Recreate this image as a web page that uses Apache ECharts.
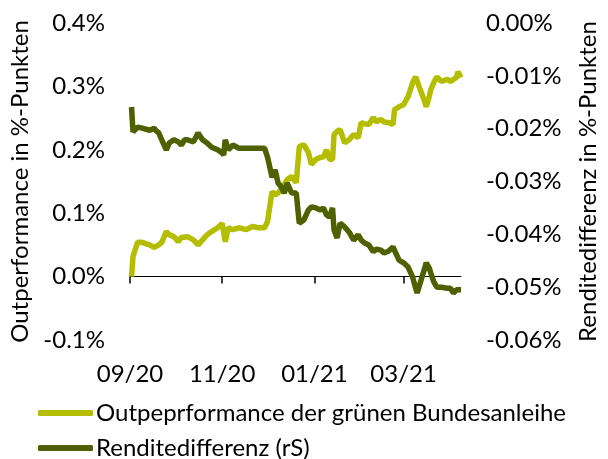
<!DOCTYPE html>
<html>
<head>
<meta charset="utf-8">
<script src="https://cdn.jsdelivr.net/npm/echarts@6/dist/echarts.min.js"></script>
<style>
  html, body { margin: 0; background: #fff; }
  #chart { width: 608px; height: 459px; }
</style>
</head>
<body>
<div id="chart"></div>
<script>
// daily readings, Sep 2020 - Apr 2021
const dates = [
  '2020-09-02', '2020-09-03', '2020-09-06', '2020-09-09', '2020-09-14', '2020-09-17', '2020-09-18', '2020-09-20',
  '2020-09-22', '2020-09-25', '2020-09-27', '2020-09-30', '2020-10-03', '2020-10-05', '2020-10-07', '2020-10-09',
  '2020-10-13', '2020-10-16', '2020-10-19', '2020-10-22', '2020-10-25', '2020-10-29', '2020-11-01', '2020-11-02',
  '2020-11-03', '2020-11-05', '2020-11-08', '2020-11-12', '2020-11-17', '2020-11-21', '2020-11-25', '2020-11-29',
  '2020-12-01', '2020-12-04', '2020-12-06', '2020-12-08', '2020-12-10', '2020-12-12', '2020-12-14', '2020-12-17',
  '2020-12-20', '2020-12-22', '2020-12-25', '2020-12-28', '2020-12-30', '2021-01-02', '2021-01-05', '2021-01-07',
  '2021-01-09', '2021-01-11', '2021-01-13', '2021-01-14', '2021-01-16', '2021-01-18', '2021-01-21', '2021-01-24',
  '2021-01-27', '2021-01-30', '2021-02-01', '2021-02-03', '2021-02-06', '2021-02-09', '2021-02-11', '2021-02-14',
  '2021-02-16', '2021-02-19', '2021-02-22', '2021-02-23', '2021-02-26', '2021-03-01', '2021-03-04', '2021-03-07',
  '2021-03-09', '2021-03-10', '2021-03-12', '2021-03-15', '2021-03-16', '2021-03-18', '2021-03-19', '2021-03-21',
  '2021-03-23', '2021-03-26', '2021-03-30', '2021-04-01', '2021-04-03', '2021-04-05', '2021-04-06', '2021-04-08'
];

// Outperformance der grünen Bundesanleihe, in %-Punkten (left axis)
const outperformance = [
  0.000, 0.032, 0.054, 0.054, 0.050, 0.046, 0.043, 0.050,
  0.054, 0.071, 0.066, 0.063, 0.055, 0.062, 0.062, 0.063,
  0.058, 0.050, 0.058, 0.066, 0.071, 0.077, 0.084, 0.085,
  0.055, 0.077, 0.074, 0.077, 0.074, 0.079, 0.077, 0.077,
  0.087, 0.134, 0.129, 0.132, 0.137, 0.145, 0.153, 0.158,
  0.148, 0.205, 0.208, 0.196, 0.177, 0.185, 0.188, 0.189,
  0.200, 0.185, 0.185, 0.224, 0.229, 0.232, 0.211, 0.216,
  0.224, 0.219, 0.243, 0.241, 0.240, 0.251, 0.244, 0.248,
  0.244, 0.243, 0.240, 0.263, 0.268, 0.271, 0.284, 0.306,
  0.315, 0.312, 0.295, 0.276, 0.268, 0.284, 0.295, 0.306,
  0.315, 0.308, 0.311, 0.308, 0.311, 0.314, 0.323, 0.314
];

// Renditedifferenz, in %-Punkten (right axis)
const spread = [
  -0.0159, -0.0206, -0.0197, -0.0199, -0.0203, -0.0199, -0.0203, -0.0208,
  -0.0221, -0.0240, -0.0227, -0.0221, -0.0225, -0.0231, -0.0221, -0.0221,
  -0.0225, -0.0208, -0.0221, -0.0227, -0.0235, -0.0240, -0.0246, -0.0250,
  -0.0221, -0.0240, -0.0231, -0.0237, -0.0237, -0.0237, -0.0237, -0.0237,
  -0.0254, -0.0292, -0.0278, -0.0303, -0.0310, -0.0322, -0.0303, -0.0322,
  -0.0322, -0.0379, -0.0373, -0.0354, -0.0348, -0.0350, -0.0354, -0.0350,
  -0.0363, -0.0367, -0.0350, -0.0392, -0.0407, -0.0379, -0.0386, -0.0396,
  -0.0411, -0.0401, -0.0411, -0.0416, -0.0420, -0.0433, -0.0428, -0.0430,
  -0.0435, -0.0432, -0.0424, -0.0426, -0.0449, -0.0454, -0.0462, -0.0481,
  -0.0502, -0.0511, -0.0492, -0.0464, -0.0454, -0.0464, -0.0473, -0.0490,
  -0.0500, -0.0500, -0.0502, -0.0502, -0.0511, -0.0505, -0.0502, -0.0505
];

const tickDates = ['2020-09-01', '2020-11-01', '2021-01-01', '2021-03-01'];
const xStart = '2020-09-01';
const xEnd = '2021-04-08';

const LIGHT = '#b4bd00';
const DARK = '#4e6000';
const FONT = 'Lato';

function toTime(s) {
  const [y, m, d] = s.split('-').map(Number);
  return new Date(y, m - 1, d).getTime();
}

function monthLabel(t) {
  const d = new Date(t);
  return String(d.getMonth() + 1).padStart(2, '0') + '/' + String(d.getFullYear() % 100).padStart(2, '0');
}

const ticks = tickDates.map(toTime);
const text = { color: '#000', fontFamily: FONT, fontSize: 24 };

const chart = echarts.init(document.getElementById('chart'), null, { renderer: 'canvas' });
chart.setOption({
  animation: false,
  backgroundColor: '#fff',
  textStyle: { fontFamily: FONT },
  grid: { left: 130, right: 135, top: 23, bottom: 119, containLabel: false },
  legend: {
    orient: 'vertical',
    left: 38,
    top: 401,
    height: 120,
    padding: 0,
    itemWidth: 55,
    itemHeight: 6,
    itemGap: 11,
    icon: 'roundRect',
    textStyle: Object.assign({ padding: [0, 0, 0, -2] }, text),
    data: ['Outpeprformance der grünen Bundesanleihe', 'Renditedifferenz (rS)']
  },
  xAxis: [
    {
      // axis line sits on the zero of the left axis; x is a plain timestamp
      type: 'value',
      min: toTime(xStart),
      max: toTime(xEnd),
      position: 'bottom',
      axisLine: { onZero: true, lineStyle: { color: '#000', width: 1 } },
      axisTick: { show: true, length: 7, customValues: ticks, lineStyle: { color: '#000', width: 1.5 } },
      axisLabel: { show: false },
      splitLine: { show: false }
    },
    {
      // labels drawn at the bottom of the plot
      type: 'value',
      min: toTime(xStart),
      max: toTime(xEnd),
      position: 'bottom',
      axisLine: { show: false, onZero: false },
      axisTick: { show: false },
      axisLabel: Object.assign({ margin: 22, customValues: ticks, formatter: monthLabel, hideOverlap: false }, text),
      splitLine: { show: false }
    }
  ],
  yAxis: [
    {
      type: 'value',
      min: -0.1,
      max: 0.4,
      interval: 0.1,
      name: 'Outperformance in %-Punkten',
      nameLocation: 'middle',
      nameRotate: 90,
      nameGap: 97,
      nameTextStyle: text,
      axisLine: { show: false },
      axisTick: { show: false },
      splitLine: { show: false },
      axisLabel: Object.assign({ margin: 25, formatter: (v) => v.toFixed(1) + '%' }, text)
    },
    {
      type: 'value',
      min: -0.06,
      max: 0,
      interval: 0.01,
      position: 'right',
      name: 'Renditedifferenz in %-Punkten',
      nameLocation: 'middle',
      nameRotate: 90,
      nameGap: 115,
      nameTextStyle: text,
      axisLine: { show: false },
      axisTick: { show: false },
      splitLine: { show: false },
      axisLabel: Object.assign({
        margin: 25,
        formatter: (v) => (Math.abs(v) < 1e-9 ? '0.00' : v.toFixed(2)) + '%'
      }, text)
    }
  ],
  series: [
    {
      name: 'Outpeprformance der grünen Bundesanleihe',
      type: 'line',
      xAxisIndex: 0,
      yAxisIndex: 0,
      symbol: 'none',
      color: LIGHT,
      lineStyle: { color: LIGHT, width: 5.5 },
      data: dates.map((d, i) => [toTime(d), outperformance[i]])
    },
    {
      name: 'Renditedifferenz (rS)',
      type: 'line',
      xAxisIndex: 0,
      yAxisIndex: 1,
      symbol: 'none',
      color: DARK,
      lineStyle: { color: DARK, width: 5.5 },
      data: dates.map((d, i) => [toTime(d), spread[i]])
    }
  ]
});
</script>
</body>
</html>
